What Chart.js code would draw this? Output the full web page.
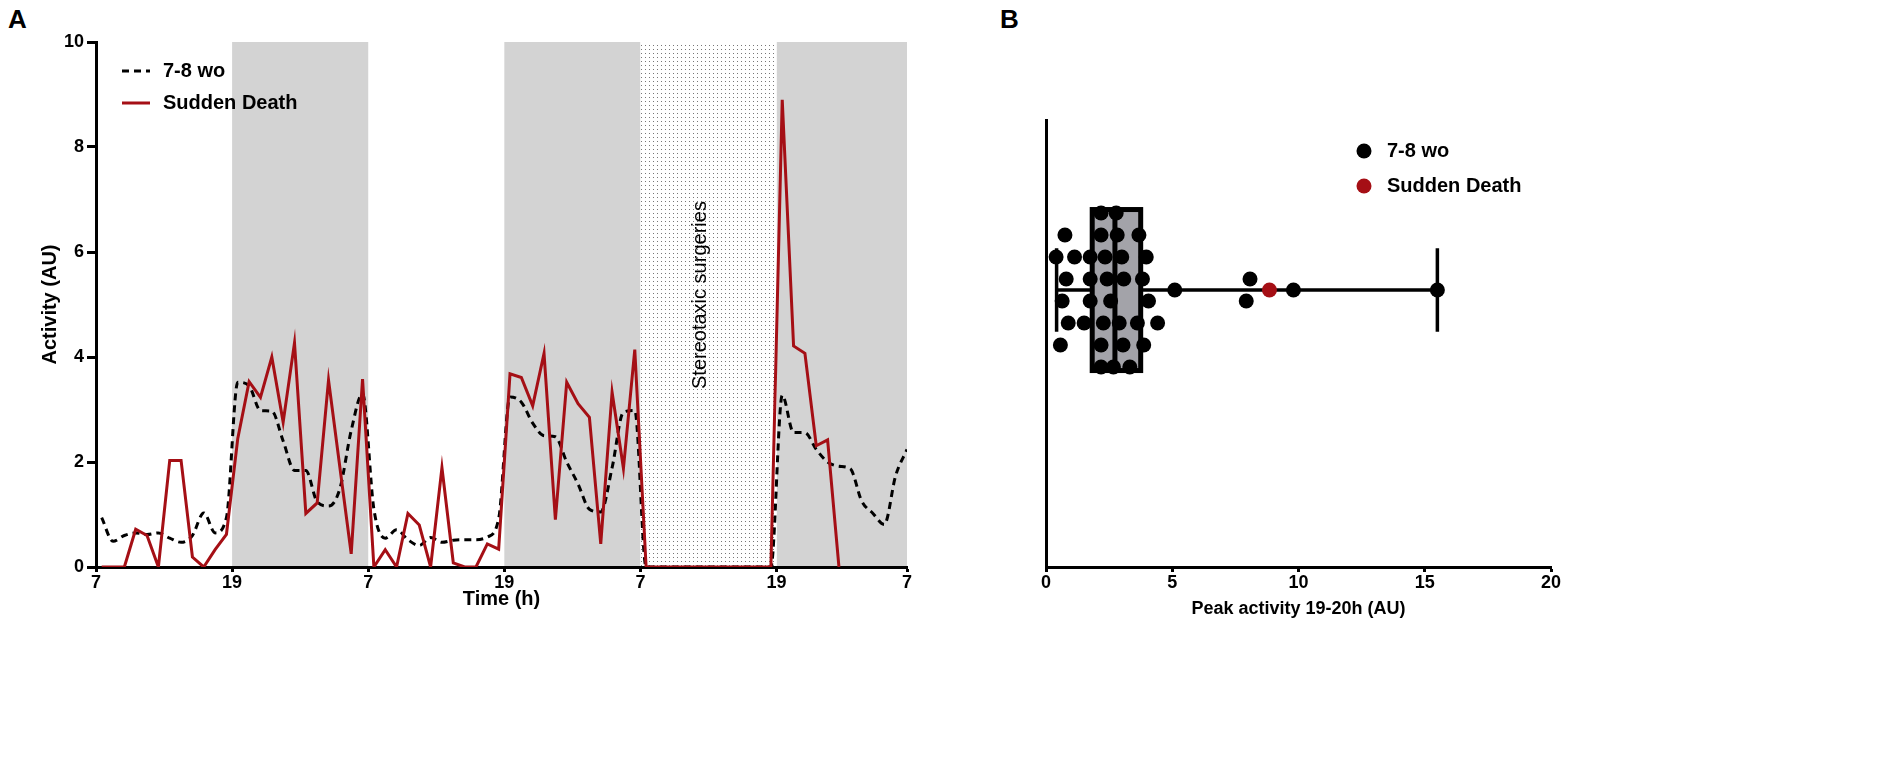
<!DOCTYPE html>
<html>
<head>
<meta charset="utf-8">
<script src="https://cdn.jsdelivr.net/npm/chart.js@4.4.7/dist/chart.umd.min.js"></script>
<style>
  body { margin: 0; background: #fff; width: 1902px; height: 779px; overflow: hidden; position: relative;
         font-family: 'Liberation Sans', Arial, sans-serif; }
  canvas { position: absolute; top: 0; }
  #chartA { left: 0; }
  #chartB { left: 960px; }
  .panel { position: absolute; font-weight: bold; font-size: 26px; line-height: 30px; }
</style>
</head>
<body>
<div class="panel" style="left:8px; top:4px;">A</div>
<div class="panel" style="left:1000px; top:4px;">B</div>
<canvas id="chartA" width="940" height="779" style="width:940px;height:779px"></canvas>
<canvas id="chartB" width="942" height="779" style="width:942px;height:779px"></canvas>
<script>
// ---- panel A: hourly activity (bin centres, hours after 7h) ----
const hours = [0.5, 1.5, 2.5, 3.5, 4.5, 5.5, 6.5, 7.5, 8.5, 9.5, 10.5, 11.5,
  12.5, 13.5, 14.5, 15.5, 16.5, 17.5, 18.5, 19.5, 20.5, 21.5, 22.5, 23.5,
  24.5, 25.5, 26.5, 27.5, 28.5, 29.5, 30.5, 31.5, 32.5, 33.5, 34.5, 35.5,
  36.5, 37.5, 38.5, 39.5, 40.5, 41.5, 42.5, 43.5, 44.5, 45.5, 46.5, 47.5,
  48.5, 49.5, 50.5, 51.5, 52.5, 53.5, 54.5, 55.5, 56.5, 57.5, 58.5, 59.5,
  60.5, 61.5, 62.5, 63.5, 64.5, 65.5, 66.5, 67.5, 68.5, 69.5, 70.5, 71.5];

const youngActivity = [0.94, 0.49, 0.60, 0.65, 0.62, 0.65, 0.55, 0.47, 0.60, 1.03, 0.65, 0.94,
  3.52, 3.45, 2.98, 2.97, 2.40, 1.84, 1.84, 1.24, 1.16, 1.49, 2.60, 3.30,
  1.10, 0.55, 0.71, 0.52, 0.41, 0.56, 0.47, 0.51, 0.52, 0.52, 0.57, 0.92,
  3.24, 3.14, 2.74, 2.50, 2.48, 2.00, 1.58, 1.10, 1.05, 1.89, 2.95, 2.98,
  0, 0, 0, 0, 0, 0, 0, 0, 0, 0, 0, 0,
  3.27, 2.56, 2.56, 2.24, 2.00, 1.92, 1.87, 1.26, 1.02, 0.81, 1.74, 2.24];

const suddenActivity = [0, 0, 0, 0.72, 0.60, 0, 2.03, 2.03, 0.19, 0, 0.33, 0.62,
  2.45, 3.53, 3.23, 4.00, 2.76, 4.27, 1.02, 1.22, 3.56, 1.90, 0.25, 3.58,
  0, 0.33, 0, 1.02, 0.80, 0, 1.89, 0.08, 0, 0, 0.44, 0.34,
  3.68, 3.61, 3.07, 4.07, 0.90, 3.52, 3.11, 2.85, 0.44, 3.33, 1.88, 4.14,
  0, 0, 0, 0, 0, 0, 0, 0, 0, 0, 0, 0,
  8.90, 4.21, 4.07, 2.31, 2.42, 0, null, null, null, null, null, null];

const seriesNames = ['7-8 wo', 'Sudden Death'];
const tickHours = [0, 12, 24, 36, 48, 60, 71.5];
const tickLabels = ['7', '19', '7', '19', '7', '19', '7'];
const darkPhases = [[12, 24], [36, 48], [60, 71.5]];
const surgeryWindow = [48, 60];
const surgeryLabel = 'Stereotaxic surgeries';

// ---- panel B: peak activity 19-20h, one dot per animal ----
const youngPeak = [2.18, 2.78,
  0.75, 2.18, 2.82, 3.68,
  0.40, 1.13, 1.75, 2.34, 3.00, 3.97,
  0.80, 1.75, 2.42, 3.08, 3.82, 8.08,
  5.10, 9.80, 15.50,
  0.64, 1.75, 2.56, 4.06, 7.93,
  0.88, 1.51, 2.27, 2.90, 3.62, 4.42,
  0.57, 2.18, 3.05, 3.87,
  2.18, 2.67, 3.32];
// swarm row of each dot (spread of the beeswarm)
const youngRow = [3.5, 3.5,
  2.5, 2.5, 2.5, 2.5,
  1.5, 1.5, 1.5, 1.5, 1.5, 1.5,
  0.5, 0.5, 0.5, 0.5, 0.5, 0.5,
  0, 0, 0,
  -0.5, -0.5, -0.5, -0.5, -0.5,
  -1.5, -1.5, -1.5, -1.5, -1.5, -1.5,
  -2.5, -2.5, -2.5, -2.5,
  -3.5, -3.5, -3.5];
const suddenPeak = [8.85];
const suddenRow = [0];
// min, Q1, median, Q3, max
const boxSummary = [0.42, 1.83, 2.73, 3.75, 15.5];
const peakTicks = [0, 5, 10, 15, 20];

const RED = '#a50f15';
const FONT = "'Liberation Sans', Arial, Helvetica, sans-serif";
Chart.defaults.font.family = FONT;
Chart.defaults.color = '#000';

const tickFont = { size: 18, weight: 'bold' };

function stipplePattern(ctx) {
  const c = document.createElement('canvas');
  c.width = 4; c.height = 4;
  const g = c.getContext('2d');
  g.fillStyle = '#fff';
  g.fillRect(0, 0, 4, 4);
  g.fillStyle = '#777';
  g.fillRect(1, 1, 1, 1);
  return ctx.createPattern(c, 'repeat');
}

const phasePlugin = {
  id: 'phases',
  beforeDraw(chart) {
    const { ctx, chartArea: { top, bottom }, scales: { x, y } } = chart;
    ctx.save();
    ctx.fillStyle = '#d3d3d3';
    darkPhases.forEach(([s, e]) => {
      const x0 = x.getPixelForValue(s), x1 = x.getPixelForValue(e);
      ctx.fillRect(x0, top, x1 - x0, bottom - top);
    });
    const s0 = x.getPixelForValue(surgeryWindow[0]), s1 = x.getPixelForValue(surgeryWindow[1]);
    ctx.fillStyle = stipplePattern(ctx);
    ctx.fillRect(s0, top, s1 - s0, bottom - top);
    // label, a little left of the band centre as in the figure
    ctx.translate(x.getPixelForValue(53.3), y.getPixelForValue(5.18));
    ctx.rotate(-Math.PI / 2);
    ctx.fillStyle = '#000';
    ctx.font = '20px ' + FONT;
    ctx.textAlign = 'center';
    ctx.textBaseline = 'middle';
    ctx.fillText(surgeryLabel, 0, 0);
    ctx.restore();
  }
};

const legendA = {
  id: 'legendA',
  afterDraw(chart) {
    const { ctx } = chart;
    ctx.save();
    ctx.font = 'bold 20px ' + FONT;
    ctx.textBaseline = 'middle';
    chart.data.datasets.forEach((ds, i) => {
      const yy = 71 + i * 32;
      ctx.strokeStyle = ds.borderColor;
      ctx.lineWidth = 3;
      ctx.setLineDash(ds.borderDash || []);
      ctx.beginPath();
      ctx.moveTo(122, yy);
      ctx.lineTo(150, yy);
      ctx.stroke();
      ctx.setLineDash([]);
      ctx.fillStyle = '#000';
      ctx.fillText(ds.label, 163, yy);
    });
    ctx.restore();
  }
};

new Chart(document.getElementById('chartA'), {
  type: 'line',
  data: {
    datasets: [
      {
        label: seriesNames[0],
        data: hours.map((h, i) => ({ x: h, y: youngActivity[i] })),
        borderColor: '#000',
        borderWidth: 3,
        borderDash: [7, 5],
        pointRadius: 0,
        cubicInterpolationMode: 'monotone',
        order: 1
      },
      {
        label: seriesNames[1],
        data: hours.map((h, i) => ({ x: h, y: suddenActivity[i] })),
        borderColor: RED,
        borderWidth: 3,
        pointRadius: 0,
        tension: 0,
        spanGaps: false,
        order: 0
      }
    ]
  },
  options: {
    responsive: false,
    animation: false,
    devicePixelRatio: 1,
    layout: { padding: { left: 38, top: 42, right: 33, bottom: 168 } },
    plugins: { legend: { display: false }, tooltip: { enabled: false } },
    scales: {
      x: {
        type: 'linear',
        min: 0,
        max: 71.5,
        z: 1,
        afterBuildTicks: s => { s.ticks = tickHours.map(v => ({ value: v })); },
        ticks: { callback: (v, i) => tickLabels[i], font: tickFont, color: '#000', padding: 0, maxRotation: 0, autoSkip: false },
        grid: { display: true, drawOnChartArea: false, drawTicks: true, tickLength: 5, tickWidth: 3, tickColor: '#000' },
        border: { display: true, width: 3, color: '#000' },
        title: { display: true, text: 'Time (h)', font: { size: 20, weight: 'bold' }, color: '#000', padding: 0 },
        afterFit: s => { s.height = 44; }
      },
      y: {
        min: 0,
        max: 10,
        ticks: { stepSize: 2, font: tickFont, color: '#000', padding: 3 },
        grid: { display: true, drawOnChartArea: false, drawTicks: true, tickLength: 9, tickWidth: 3, tickColor: '#000' },
        border: { display: true, width: 3, color: '#000' },
        title: { display: true, text: 'Activity (AU)', font: { size: 20, weight: 'bold' }, color: '#000', padding: 0 },
        afterFit: s => { s.width = 58; }
      }
    }
  },
  plugins: [phasePlugin, legendA]
});

// ---- panel B ----
const boxPlugin = {
  id: 'boxPlot',
  beforeDatasetsDraw(chart) {
    const { ctx, scales: { x, y } } = chart;
    const [lo, q1, med, q3, hi] = boxSummary.map(v => x.getPixelForValue(v));
    const yc = y.getPixelForValue(0);
    const capT = y.getPixelForValue(1.9), capB = y.getPixelForValue(-1.9);
    const boxT = y.getPixelForValue(3.66), boxB = y.getPixelForValue(-3.66);
    ctx.save();
    ctx.strokeStyle = '#000';
    ctx.lineWidth = 3.5;
    ctx.beginPath();
    ctx.moveTo(lo, yc); ctx.lineTo(hi, yc);
    ctx.moveTo(lo, capT); ctx.lineTo(lo, capB);
    ctx.moveTo(hi, capT); ctx.lineTo(hi, capB);
    ctx.stroke();
    ctx.fillStyle = '#a3a3a9';
    ctx.fillRect(q1, boxT, q3 - q1, boxB - boxT);
    ctx.lineWidth = 5;
    ctx.strokeRect(q1, boxT, q3 - q1, boxB - boxT);
    ctx.beginPath();
    ctx.moveTo(med, boxT); ctx.lineTo(med, boxB);
    ctx.stroke();
    ctx.restore();
  }
};

const legendB = {
  id: 'legendB',
  afterDraw(chart) {
    const { ctx } = chart;
    ctx.save();
    ctx.font = 'bold 20px ' + FONT;
    ctx.textBaseline = 'middle';
    chart.data.datasets.forEach((ds, i) => {
      const yy = 151 + i * 35;
      ctx.fillStyle = ds.backgroundColor;
      ctx.beginPath();
      ctx.arc(404, yy, 7.5, 0, Math.PI * 2);
      ctx.fill();
      ctx.fillStyle = '#000';
      ctx.fillText(ds.label, 427, yy);
    });
    ctx.restore();
  }
};

new Chart(document.getElementById('chartB'), {
  type: 'scatter',
  data: {
    datasets: [
      {
        label: seriesNames[0],
        data: youngPeak.map((v, i) => ({ x: v, y: youngRow[i] })),
        backgroundColor: '#000',
        borderWidth: 0,
        pointRadius: 7.5,
        order: 1
      },
      {
        label: seriesNames[1],
        data: suddenPeak.map((v, i) => ({ x: v, y: suddenRow[i] })),
        backgroundColor: RED,
        borderWidth: 0,
        pointRadius: 7.5,
        order: 0
      }
    ]
  },
  options: {
    responsive: false,
    animation: false,
    devicePixelRatio: 1,
    layout: { padding: { left: 86, top: 120, right: 351, bottom: 159 } },
    plugins: { legend: { display: false }, tooltip: { enabled: false } },
    scales: {
      x: {
        type: 'linear',
        min: 0,
        max: 20,
        afterBuildTicks: s => { s.ticks = peakTicks.map(v => ({ value: v })); },
        ticks: { font: tickFont, color: '#000', padding: 0, maxRotation: 0 },
        grid: { display: true, drawOnChartArea: false, drawTicks: true, tickLength: 5, tickWidth: 3, tickColor: '#000' },
        border: { display: true, width: 3, color: '#000' },
        title: { display: true, text: 'Peak activity 19-20h (AU)', font: { size: 18, weight: 'bold' }, color: '#000', padding: 0 },
        afterFit: s => { s.height = 53; }
      },
      y: {
        type: 'linear',
        min: -12.59,
        max: 7.73,
        ticks: { display: false },
        grid: { display: false },
        border: { display: true, width: 3, color: '#000' },
        afterFit: s => { s.width = 0; }
      }
    }
  },
  plugins: [boxPlugin, legendB]
});
</script>
</body>
</html>
